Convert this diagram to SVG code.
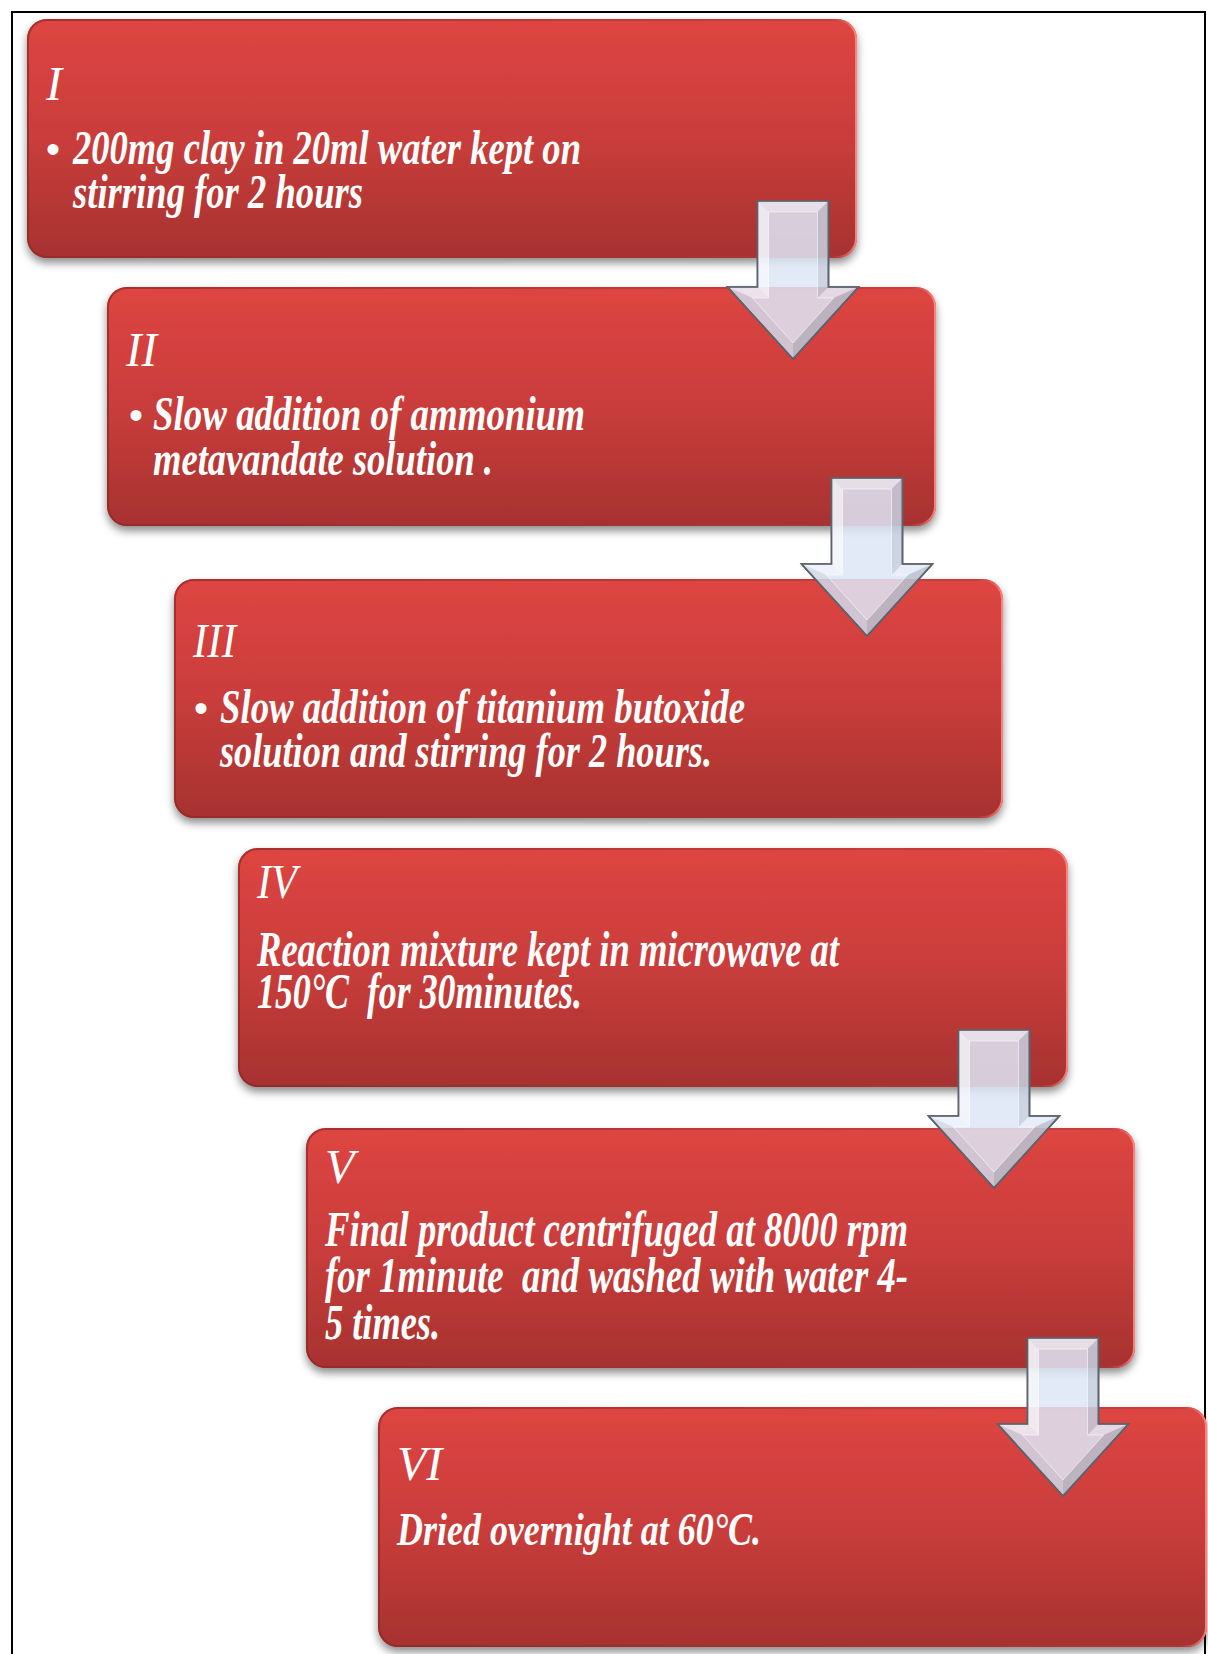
<svg xmlns="http://www.w3.org/2000/svg" xmlns:xlink="http://www.w3.org/1999/xlink" width="1208" height="1654" viewBox="0 0 1208 1654">
<style>
.box{fill:url(#boxGrad);filter:url(#shadow);}
.edge{fill:none;stroke:url(#edgeGrad);stroke-width:2;}
.lbl{font-family:"Liberation Serif","Times New Roman",serif;font-style:italic;font-weight:normal;fill:#ffffff;font-size:48px;}
.txt{font-family:"Liberation Serif","Times New Roman",serif;font-style:italic;font-weight:bold;fill:#ffffff;font-size:48px;}
.bul{font-family:"Liberation Sans",Arial,sans-serif;fill:#ffffff;font-size:40px;}
.aout{fill:rgba(222,230,246,0.86);stroke:#5d636c;stroke-width:1.6;stroke-linejoin:miter;}
.ainn{fill:none;stroke:#ffffff;stroke-opacity:0.55;stroke-width:1;}
.fl{fill:#ffffff;}
.fd{fill:#4a5060;}
</style>
<defs>
<linearGradient id="boxGrad" x1="0" y1="0" x2="0" y2="1">
<stop offset="0" stop-color="#de4542"/>
<stop offset="0.5" stop-color="#c93d3b"/>
<stop offset="1" stop-color="#a63230"/>
</linearGradient>
<linearGradient id="edgeGrad" x1="0" y1="0" x2="1" y2="0">
<stop offset="0" stop-color="#8e2725" stop-opacity="0.7"/>
<stop offset="0.97" stop-color="#b23835" stop-opacity="0.5"/>
<stop offset="1" stop-color="#ff8c84" stop-opacity="0.9"/>
</linearGradient>
<filter id="shadow" x="-5%" y="-5%" width="110%" height="115%">
<feDropShadow dx="0" dy="5" stdDeviation="4" flood-color="#000000" flood-opacity="0.45"/>
</filter>
<g id="arrow">
<polygon class="aout" points="-35.5,0 35.5,0 35.5,86 65.5,86 0,158 -65.5,86 -35.5,86"/>
<polygon class="fl" fill-opacity="0.35" points="-35.5,0 35.5,0 24.5,11 -24.5,11"/>
<polygon class="fl" fill-opacity="0.55" points="-35.5,0 -24.5,11 -24.5,97 -35.5,86"/>
<polygon class="fd" fill-opacity="0.14" points="35.5,0 35.5,86 24.5,97 24.5,11"/>
<polygon class="fl" fill-opacity="0.4" points="-35.5,86 -24.5,97 -40.6,97 -65.5,86"/>
<polygon class="fl" fill-opacity="0.2" points="35.5,86 65.5,86 40.6,97 24.5,97"/>
<polygon class="fd" fill-opacity="0.08" points="-65.5,86 -40.6,97 0,142 0,158"/>
<polygon class="fd" fill-opacity="0.22" points="65.5,86 0,158 0,142 40.6,97"/>
<polygon class="ainn" points="-24.5,11 24.5,11 24.5,97 40.6,97 0,142 -40.6,97 -24.5,97"/>
<polygon fill="none" stroke="#5d636c" stroke-width="1.6" points="-35.5,0 35.5,0 35.5,86 65.5,86 0,158 -65.5,86 -35.5,86"/>
</g>
</defs>
<rect x="0" y="0" width="1208" height="1654" fill="#ffffff"/>
<path d="M12,1660 L12,12 L1205,12 L1205,1660" fill="none" stroke="#000000" stroke-width="2"/>

<g id="node1">
<rect class="box" x="27" y="19" width="830" height="239" rx="20"/>
<rect class="edge" x="28" y="20" width="828" height="237" rx="19"/>
<text class="lbl" x="46" y="100">I</text>
<text class="bul" x="46" y="163">•</text>
<text class="txt" x="73" y="164" textLength="508" lengthAdjust="spacingAndGlyphs">200mg clay in 20ml water kept on</text>
<text class="txt" x="73" y="208" textLength="290" lengthAdjust="spacingAndGlyphs">stirring for 2 hours</text>
</g>

<g id="node2">
<rect class="box" x="107" y="287" width="829" height="239" rx="20"/>
<rect class="edge" x="108" y="288" width="827" height="237" rx="19"/>
<text class="lbl" x="126" y="366" textLength="31" lengthAdjust="spacingAndGlyphs">II</text>
<text class="bul" x="129" y="429">•</text>
<text class="txt" x="153" y="430" textLength="432" lengthAdjust="spacingAndGlyphs">Slow addition of ammonium</text>
<text class="txt" x="153" y="475" textLength="340" lengthAdjust="spacingAndGlyphs">metavandate solution .</text>
</g>

<g id="node3">
<rect class="box" x="174" y="579" width="829" height="239" rx="20"/>
<rect class="edge" x="175" y="580" width="827" height="237" rx="19"/>
<text class="lbl" x="193" y="657" textLength="43" lengthAdjust="spacingAndGlyphs">III</text>
<text class="bul" x="194" y="722">•</text>
<text class="txt" x="220" y="723" textLength="525" lengthAdjust="spacingAndGlyphs">Slow addition of titanium butoxide</text>
<text class="txt" x="220" y="767" textLength="492" lengthAdjust="spacingAndGlyphs">solution and stirring for 2 hours.</text>
</g>

<g id="node4">
<rect class="box" x="238" y="848" width="830" height="239" rx="20"/>
<rect class="edge" x="239" y="849" width="828" height="237" rx="19"/>
<text class="lbl" x="257" y="898" textLength="40" lengthAdjust="spacingAndGlyphs">IV</text>
<text class="txt" x="257" y="966" style="font-size:50px" textLength="582" lengthAdjust="spacingAndGlyphs">Reaction mixture kept in microwave at</text>
<text class="txt" x="257" y="1008" style="font-size:50px;white-space:pre" xml:space="preserve" textLength="325" lengthAdjust="spacingAndGlyphs">150°C  for 30minutes.</text>
</g>

<g id="node5">
<rect class="box" x="306" y="1128" width="829" height="240" rx="20"/>
<rect class="edge" x="307" y="1129" width="827" height="238" rx="19"/>
<text class="lbl" x="325" y="1183">V</text>
<text class="txt" x="325" y="1246" style="font-size:50px" textLength="583" lengthAdjust="spacingAndGlyphs">Final product centrifuged at 8000 rpm</text>
<text class="txt" x="325" y="1292" style="font-size:50px;white-space:pre" xml:space="preserve" textLength="583" lengthAdjust="spacingAndGlyphs">for 1minute  and washed with water 4-</text>
<text class="txt" x="325" y="1339" style="font-size:50px" textLength="115" lengthAdjust="spacingAndGlyphs">5 times.</text>
</g>

<g id="node6">
<rect class="box" x="378" y="1407" width="829" height="240" rx="20"/>
<rect class="edge" x="379" y="1408" width="827" height="238" rx="19"/>
<text class="lbl" x="397" y="1480">VI</text>
<text class="txt" x="397" y="1545" style="font-size:46px" textLength="364" lengthAdjust="spacingAndGlyphs">Dried overnight at 60°C.</text>
</g>

<g id="connectors">
<use xlink:href="#arrow" href="#arrow" x="793" y="201"/>
<use xlink:href="#arrow" href="#arrow" x="867" y="478"/>
<use xlink:href="#arrow" href="#arrow" x="994" y="1030"/>
<use xlink:href="#arrow" href="#arrow" x="1063" y="1338"/>
</g>
</svg>
